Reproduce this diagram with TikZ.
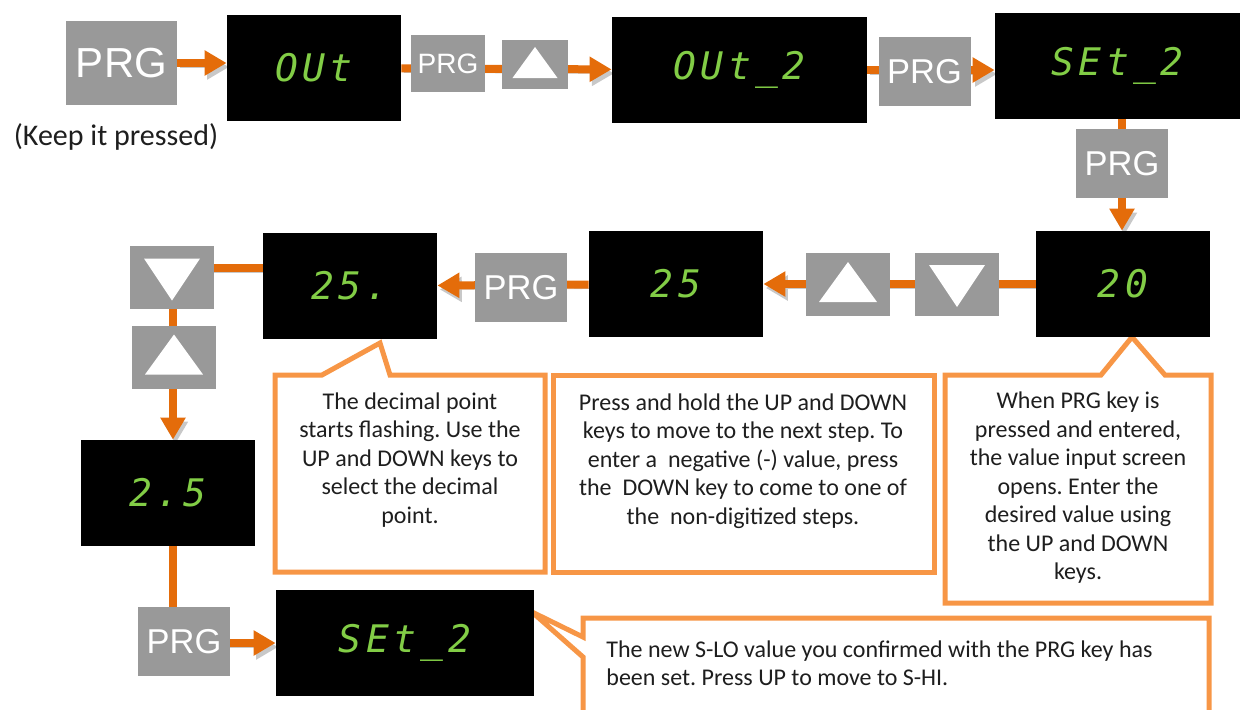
\documentclass[tikz,border=0pt]{standalone}
\usepackage{fontspec}
\setmainfont{Carlito}
\newfontfamily\keyfont{Liberation Sans}
\newfontfamily\segfont[LetterSpace=12]{DejaVu Sans Mono}
\usetikzlibrary{arrows.meta,backgrounds}
\frenchspacing

\definecolor{keygray}{RGB}{153,153,153}
\definecolor{floworange}{RGB}{228,108,10}
\definecolor{shadowgray}{RGB}{200,200,200}
\definecolor{noteorange}{RGB}{247,150,70}
\definecolor{segreen}{RGB}{130,205,70}
\definecolor{textgray}{RGB}{30,30,30}

\tikzset{
  key/.style={fill=keygray, inner sep=0pt, minimum width=42pt, minimum height=31.5pt},
  prg/.style={key, text=white, minimum width=46pt, minimum height=34.5pt, font=\keyfont\fontsize{17.25}{17.25}\selectfont},
  upkey/.style={key, path picture={\fill[white] ([shift={(-#1*14.5pt,-#1*8.75pt)}]path picture bounding box.center) -- ([shift={(#1*14.5pt,-#1*8.75pt)}]path picture bounding box.center) -- ([shift={(0pt,#1*11.25pt)}]path picture bounding box.center) -- cycle;}},
  upkey/.default=1,
  downkey/.style={key, path picture={\fill[white] ([shift={(-#1*14pt,#1*9.5pt)}]path picture bounding box.center) -- ([shift={(#1*14pt,#1*9.5pt)}]path picture bounding box.center) -- ([shift={(0pt,-#1*11.5pt)}]path picture bounding box.center) -- cycle;}},
  downkey/.default=1,
  disp/.style={fill=black, text=segreen, inner sep=0pt, minimum width=87pt, minimum height=53pt, font=\segfont\itshape\fontsize{19}{19}\selectfont},
  flow/.style={draw=floworange, line width=4pt, -{Triangle[length=11pt,width=12pt]}, preaction={draw=shadowgray, transform canvas={shift={(1.2pt,-2pt)}}}},
  note/.style={draw=noteorange, line width=2.5pt, fill=white},
  notetext/.style={align=center, inner sep=0pt, font=\fontsize{12}{14.25}\selectfont, text=textgray},
}

\begin{document}
\begin{tikzpicture}[x=0.5pt, y=-0.5pt]
  \useasboundingbox (0,0) rectangle (1242,709);

  % Top row
  \node[prg, minimum width=55.5pt, minimum height=42pt, font=\keyfont\fontsize{21}{21}\selectfont] (prgA) at (121.5, 63) {PRG};
  \node[text=textgray, font=\fontsize{15}{15}\selectfont] (hold) at (116, 137) {(Keep it pressed)};
  \node[disp] (dispA) at (314, 68) {OUt};
  \node[prg, minimum width=37pt, minimum height=28.5pt, font=\keyfont\fontsize{14}{14}\selectfont] (prgB) at (448, 63.5) {PRG};
  \node[upkey=0.78, minimum width=33pt, minimum height=24.5pt] (upA) at (535, 64.5) {};
  \node[disp, minimum width=127.5pt] (dispB) at (739.5, 70) {OUt\_2};
  \node[prg] (prgC) at (924.5, 71.5) {PRG};
  \node[disp, minimum width=122.5pt] (dispC) at (1117.5, 66) {SEt\_2};

  % Right column and second row
  \node[prg] (prgD) at (1122, 163.5) {PRG};
  \node[disp] (dispD) at (1123, 284) {20};
  \node[downkey] (downA) at (957, 284) {};
  \node[upkey] (upB) at (848, 284.5) {};
  \node[disp] (dispE) at (676, 284) {25};
  \node[prg] (prgE) at (521, 287.5) {PRG};
  \node[disp] (dispF) at (350, 286) {25.};

  % Left column
  \node[downkey] (downB) at (172, 277.5) {};
  \node[upkey] (upC) at (174, 357) {};
  \node[disp] (dispG) at (168, 493) {2.5};
  \node[prg] (prgF) at (184, 641.5) {PRG};
  \node[disp, minimum width=129pt] (dispH) at (405, 643) {SEt\_2};

  % Callout texts
  \node[notetext] (noteA) at (410, 460) {The decimal point\\starts flashing. Use the\\UP and DOWN keys to\\select the decimal\\point.};
  \node[notetext] (noteB) at (743, 461) {Press and hold the UP and DOWN\\keys to move to the next step. To\\enter a\ \ negative (-) value, press\\the\ \ DOWN key to come to one of\\the\ \ non-digitized steps.};
  \node[notetext] (noteC) at (1078, 488) {When PRG key is\\pressed and entered,\\the value input screen\\opens. Enter the\\desired value using\\the UP and DOWN\\keys.};
  \node[notetext, align=left, anchor=north west] (noteD) at (606, 640) {The new S-LO value you confirmed with the PRG key has\\been set. Press UP to move to S-HI.};

  \begin{scope}[on background layer]
    % Callout boxes
    \draw[note] (275,375) -- (322,375) -- (380,343) -- (390,375) -- (545,375) -- (545,572) -- (275,572) -- cycle;
    \draw[note] (553,375) rectangle (934,572);
    \draw[note] (945,375) -- (1101,375) -- (1132,337) -- (1165,375) -- (1211,375) -- (1211,603) -- (945,603) -- cycle;
    \draw[note] (583,618) -- (1209,618) -- (1209,760) -- (583,760) -- (583,657) -- (532,612) -- (583,637) -- cycle;

    % Edges along the top row
    \draw[flow] (prgA.east) -- (prgA.east -| dispA.west);
    \draw[flow] (dispA) -- (dispB);
    \draw[flow] (dispB.east) -- (dispB.east -| dispC.west);
    \draw[flow] (prgD |- dispC.south) -- (prgD |- dispD.north);

    % Edges along the second row
    \draw[flow] (dispD) -- (dispE);
    \draw[flow] (dispE) -- (dispF);
    \draw[flow] ([yshift=9pt]dispF.west) -| ([xshift=2.5pt]dispG.north);
    \draw[flow] ([xshift=2.5pt]dispG.south) |- (dispH.west);
  \end{scope}

\end{tikzpicture}
\end{document}
